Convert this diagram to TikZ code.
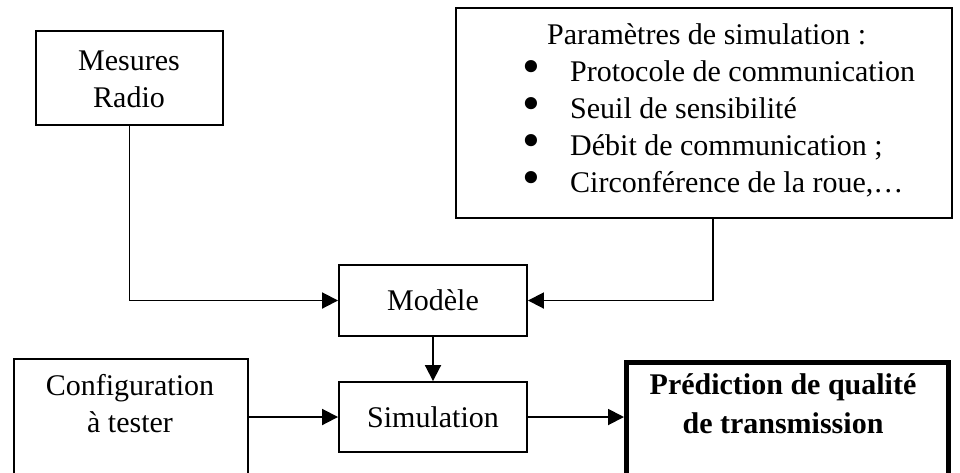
\documentclass[tikz,border=0pt]{standalone}
\usepackage{fontspec}
\setmainfont{Liberation Serif}
\usetikzlibrary{arrows.meta}
\newcommand{\bigbul}{\raisebox{-0.08em}{\scalebox{1.7}{\textbullet}}}
\begin{document}
\begin{tikzpicture}[x=1pt,y=-1pt,
  box/.style={draw,line width=1.9pt,inner sep=0pt,align=center,font=\fontsize{30}{37}\selectfont},
  lbl/.style={inner sep=0pt,align=center,font=\fontsize{30}{37}\selectfont},
  conn/.style={line width=1.9pt,-{Triangle[length=16pt,width=16pt]}}]
\useasboundingbox (0,0) rectangle (960,472);
\clip (0,0) rectangle (960,472);
\node[box,minimum width=187pt,minimum height=94pt] (mes) at (129.5,78) {};
\node[lbl] (mestxt) at (129,79) {Mesures\\Radio};
\node[box,minimum width=496pt,minimum height=210pt] (par) at (704,113) {};
\node[lbl,align=left,anchor=north west] (partxt) at (522,23) {%
\hspace*{25pt}Paramètres de simulation :\\
\makebox[48pt][l]{\bigbul}Protocole de communication\\
\makebox[48pt][l]{\bigbul}Seuil de sensibilité\\
\makebox[48pt][l]{\bigbul}Débit de communication ;\\
\makebox[48pt][l]{\bigbul}Circonférence de la roue,…};
\node[box,minimum width=188pt,minimum height=71pt] (mod) at (433,300.5) {Modèle};
\node[box,minimum width=188pt,minimum height=70pt] (sim) at (433,417) {Simulation};
\node[box,minimum width=234pt,minimum height=140pt,anchor=north west] (conf) at (13,358) {};
\node[lbl] (conftxt) at (130,404) {Configuration\\à tester};
\node[box,line width=4.5pt,minimum width=322pt,minimum height=140pt,anchor=north west] (pred) at (624,360) {};
\node[lbl,font=\fontsize{30}{39}\selectfont\bfseries] (predtxt) at (783,404) {Prédiction de qualité\\de transmission};
\draw[conn] (mes.south) |- (mod.west);
\draw[conn] (par.south -| 713,0) |- (mod.east);
\draw[conn] (mod) -- (sim);
\draw[conn] (conf.east |- sim.west) -- (sim.west);
\draw[conn] (sim.east) -- (sim.east -| pred.west);
\end{tikzpicture}
\end{document}
